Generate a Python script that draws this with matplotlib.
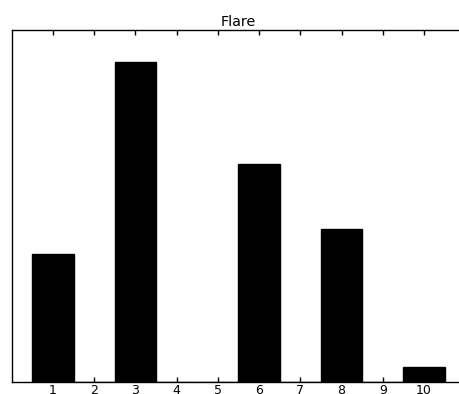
import numpy as np
import matplotlib
matplotlib.use('Agg')
import matplotlib.pyplot as plt

# bar data
positions = [1, 2, 3, 4, 5, 6, 7, 8, 9, 10]
values = [0.40, 0.0, 1.00, 0.0, 0.0, 0.68, 0.0, 0.476, 0.0, 0.045]
tick_labels = ['1', '2', '3', '4', '5', '6', '7', '8', '9', '10']
title = 'Flare'

fig = plt.figure(figsize=(4.6, 3.94), dpi=100)
ax = fig.add_axes([0.0254, 0.0317, 0.986, 0.8921])

ax.bar(positions, values, width=1.0, color='black', edgecolor='black', linewidth=1.0)

ax.set_xlim(0, 11)
ax.set_ylim(0, 1.1)
ax.set_xticks(positions)
ax.set_xticklabels(tick_labels, fontsize=9)
ax.set_yticks([])
ax.tick_params(axis='x', direction='in', top=True, bottom=True, length=3.5, width=1, pad=2)
for s in ax.spines.values():
    s.set_linewidth(1.0)
ax.set_title(title, fontsize=10.3, pad=3)

fig.savefig('out.png', dpi=100)
